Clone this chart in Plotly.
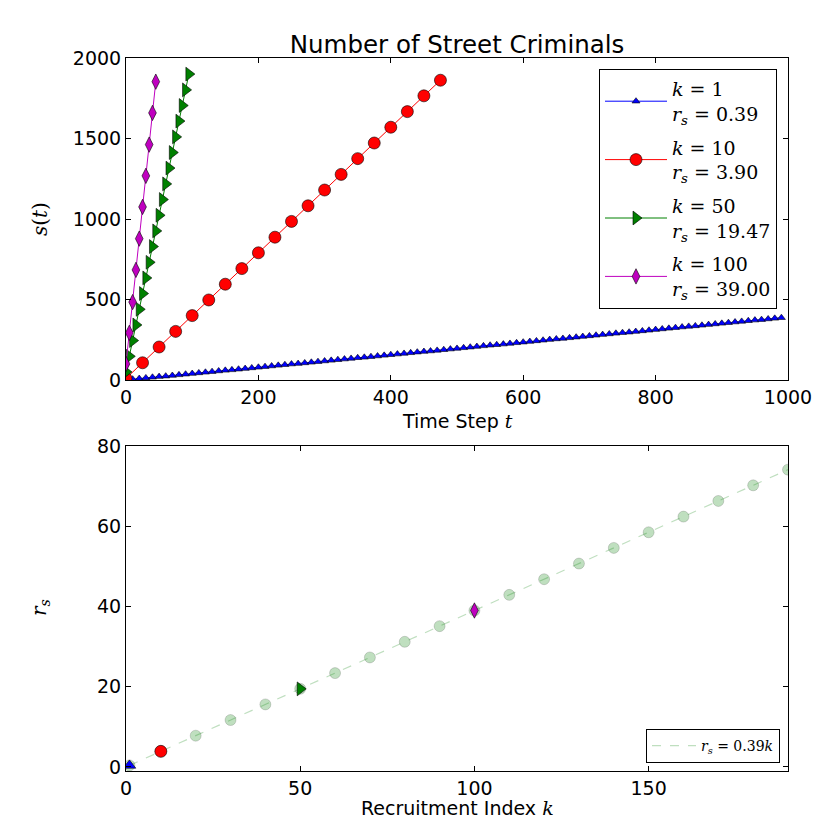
import plotly.graph_objects as go

# ---------------- data ----------------
t_k1 = list(range(0, 1000, 10))
s_k1 = [1, 5, 9, 13, 17, 21, 24, 28, 32, 36, 40, 44, 48, 52, 56, 60, 63, 67, 71, 75,
        79, 83, 87, 91, 95, 99, 102, 106, 110, 114, 118, 122, 126, 130, 134, 138, 141, 145, 149, 153,
        157, 161, 165, 169, 173, 177, 180, 184, 188, 192, 196, 200, 204, 208, 212, 216, 219, 223, 227, 231,
        235, 239, 243, 247, 251, 255, 258, 262, 266, 270, 274, 278, 282, 286, 290, 294, 297, 301, 305, 309,
        313, 317, 321, 325, 329, 333, 336, 340, 344, 348, 352, 356, 360, 364, 368, 372, 375, 379, 383, 387]

t_k10 = list(range(0, 500, 25))
s_k10 = [10, 107, 205, 302, 400, 497, 595, 692, 790, 887, 985, 1082, 1180, 1277, 1375,
         1472, 1570, 1667, 1765, 1862]

t_k50 = list(range(0, 100, 5))
s_k50 = [50, 147, 245, 342, 439, 537, 634, 731, 829, 926, 1023, 1121, 1218, 1316, 1413,
         1510, 1608, 1705, 1802, 1900]

t_k100 = list(range(0, 50, 5))
s_k100 = [100, 293, 484, 684, 878, 1075, 1268, 1462, 1659, 1853]

k_all = [1, 10, 20, 30, 40, 50, 60, 70, 80, 90, 100, 110, 120, 130, 140, 150, 160, 170, 180, 190]
r_all = [0.39, 3.9, 7.8, 11.7, 15.6, 19.5, 23.4, 27.3, 31.2, 35.1, 39.0, 42.9, 46.8, 50.7, 54.6,
         58.5, 62.4, 66.3, 70.2, 74.1]
fit_k = [1, 190]
fit_r = [0.39, 74.1]

sel_k = [1, 10, 50, 100]
sel_r = [0.39, 3.90, 19.47, 39.00]
sel_labels = ["0.39", "3.90", "19.47", "39.00"]

colors = ["#0000ff", "#ff0000", "#008000", "#bf00bf"]
symbols = ["triangle-up", "circle", "triangle-right", "diamond-tall"]
top_sizes = [7, 12, 12, 11]
bot_sizes = [11, 12, 12, 11]

series = [(t_k1, s_k1), (t_k10, s_k10), (t_k50, s_k50), (t_k100, s_k100)]

MATH = "DejaVu Serif"
SANS = "DejaVu Sans"

fig = go.Figure()

for i, (tt, ss) in enumerate(series):
    fig.add_trace(go.Scatter(
        x=tt, y=ss, mode="lines+markers",
        line=dict(color=colors[i], width=1),
        marker=dict(symbol=symbols[i], size=top_sizes[i], color=colors[i],
                    line=dict(color="black", width=0.6)),
        name=f"<i>k</i> = {sel_k[i]}<br><i>r</i><sub><i>s</i></sub> = {sel_labels[i]}",
        legendgroup=f"g{i}", legend="legend",
        xaxis="x", yaxis="y"))

fig.add_trace(go.Scatter(
    x=fit_k, y=fit_r, mode="lines",
    line=dict(color="rgba(0,128,0,0.25)", width=1.2, dash="dash"),
    name="<i>r</i><sub><i>s</i></sub> = 0.39<i>k</i>", legend="legend2",
    xaxis="x2", yaxis="y2"))

fig.add_trace(go.Scatter(
    x=k_all, y=r_all, mode="markers",
    marker=dict(symbol="circle", size=11, color="rgba(0,128,0,0.25)",
                line=dict(color="rgba(0,0,0,0.25)", width=0.6)),
    showlegend=False, xaxis="x2", yaxis="y2"))

for i in range(4):
    fig.add_trace(go.Scatter(
        x=[sel_k[i]], y=[sel_r[i]], mode="markers",
        marker=dict(symbol=symbols[i], size=bot_sizes[i], color=colors[i],
                    line=dict(color="black", width=0.6)),
        showlegend=False, xaxis="x2", yaxis="y2"))

axis_common = dict(showline=True, linecolor="black", linewidth=1, mirror="ticks",
                   ticks="inside", ticklen=5, tickcolor="black", tickwidth=1,
                   showgrid=False, zeroline=False,
                   tickfont=dict(family=SANS, size=19, color="black"))

# page body has an 8px margin -> shift everything up/left by 8px
OFF = 8
PL, PR, PT, PB = 126, 788, 58, 771      # target plot-area pixel box in the window
H = 830
top_dom = [(PB - 380) / (PB - PT), 1.0]
bot_dom = [0.0, (PB - 446) / (PB - PT)]

def px_x(px):
    return (px - PL) / (PR - PL)

def px_y(py):
    return (PB - py) / (PB - PT)

fig.update_layout(
    width=830, height=830,
    margin=dict(l=PL - OFF, r=830 + OFF - PR, t=PT - OFF, b=H + OFF - PB),
    paper_bgcolor="white", plot_bgcolor="white",
    showlegend=True,
    xaxis=dict(domain=[0, 1], anchor="y", range=[0, 1000],
               tickvals=[0, 200, 400, 600, 800, 1000], **axis_common),
    yaxis=dict(domain=top_dom, anchor="x", range=[0, 2000],
               tickvals=[0, 500, 1000, 1500, 2000], **axis_common),
    xaxis2=dict(domain=[0, 1], anchor="y2", range=[0, 190],
                tickvals=[0, 50, 100, 150], **axis_common),
    yaxis2=dict(domain=bot_dom, anchor="x2", range=[-1, 80],
                tickvals=[0, 20, 40, 60, 80], **axis_common),
    legend=dict(x=px_x(777), y=px_y(69), xanchor="right", yanchor="top",
                bordercolor="black", borderwidth=1, bgcolor="white",
                font=dict(family=MATH, size=19, color="black"),
                tracegroupgap=6, itemwidth=62),
    legend2=dict(x=px_x(780), y=px_y(763), xanchor="right", yanchor="bottom",
                 bordercolor="black", borderwidth=1, bgcolor="white",
                 font=dict(family=MATH, size=14, color="black"), itemwidth=44),
    title=dict(text="Number of Street Criminals", x=(457 - OFF) / 830, xanchor="center",
               y=1 - (44 - OFF) / 830, yanchor="middle", yref="container",
               font=dict(family=SANS, size=24.5, color="black")),
    annotations=[
        dict(text="Time Step <i><span style='font-family:DejaVu Serif'>t</span></i>",
             xref="paper", yref="paper", x=0.5, y=px_y(421),
             showarrow=False, xanchor="center", yanchor="middle",
             font=dict(family=SANS, size=19, color="black")),
        dict(text="Recruitment Index <i><span style='font-family:DejaVu Serif'>k</span></i>",
             xref="paper", yref="paper", x=0.5, y=px_y(808),
             showarrow=False, xanchor="center", yanchor="middle",
             font=dict(family=SANS, size=19, color="black")),
        dict(text="<i>s</i>(<i>t</i>)",
             xref="paper", yref="paper", x=px_x(40), y=px_y(219),
             showarrow=False, xanchor="center", yanchor="middle", textangle=-90,
             font=dict(family=MATH, size=20, color="black")),
        dict(text="<i>r</i><sub><i>s</i></sub>",
             xref="paper", yref="paper", x=px_x(40), y=px_y(608),
             showarrow=False, xanchor="center", yanchor="middle", textangle=-90,
             font=dict(family=MATH, size=20, color="black")),
    ],
)

fig.write_html("out.html")
